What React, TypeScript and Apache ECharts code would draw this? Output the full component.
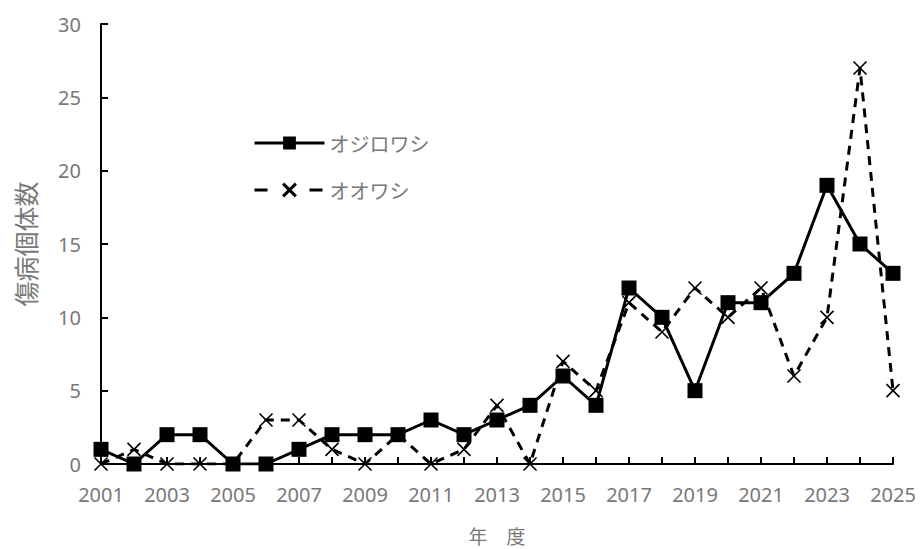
import React, { useEffect, useRef } from "react";
import * as echarts from "echarts";

// 年度ごとの傷病個体数
const years = [
  "2001", "2002", "2003", "2004", "2005", "2006", "2007", "2008", "2009", "2010",
  "2011", "2012", "2013", "2014", "2015", "2016", "2017", "2018", "2019", "2020",
  "2021", "2022", "2023", "2024", "2025",
];
const ojirowashi = [1, 0, 2, 2, 0, 0, 1, 2, 2, 2, 3, 2, 3, 4, 6, 4, 12, 10, 5, 11, 11, 13, 19, 15, 13];
const oowashi = [0, 1, 0, 0, 0, 3, 3, 1, 0, 2, 0, 1, 4, 0, 7, 5, 11, 9, 12, 10, 12, 6, 10, 27, 5];

const TEXT_GRAY = "#787878";
const CJK_FONT = "'Noto Sans CJK JP', sans-serif";
const NUM_FONT = "'Noto Sans', 'Open Sans', sans-serif";
const CROSS = "path://M0 0L10 10M10 0L0 10";

export default function App() {
  const ref = useRef<HTMLDivElement>(null);

  useEffect(() => {
    if (!ref.current) return;
    const chart = echarts.init(ref.current, undefined, { renderer: "svg" });
    chart.setOption({
      animation: false,
      backgroundColor: "#ffffff",
      textStyle: { fontFamily: CJK_FONT },
      grid: { left: 101, right: 27, top: 24, bottom: 85, containLabel: false, outerBoundsMode: "none" },
      legend: {
        orient: "vertical",
        left: 248,
        top: 128,
        itemWidth: 70,
        itemHeight: 16,
        itemGap: 27,
        textStyle: { color: TEXT_GRAY, fontSize: 20, fontFamily: CJK_FONT },
        data: [
          {
            name: "オジロワシ",
            lineStyle: { width: 3, color: "#000" },
          },
          {
            name: "オオワシ",
            lineStyle: { width: 3, color: "#000", type: [13, 42] },
            itemStyle: { color: "transparent", borderColor: "#000", borderWidth: 3 },
          },
        ],
      },
      xAxis: {
        type: "category",
        data: years,
        boundaryGap: false,
        name: "年　度",
        nameLocation: "middle",
        nameGap: 61,
        nameTextStyle: { color: TEXT_GRAY, fontSize: 19, lineHeight: 20, fontFamily: CJK_FONT },
        axisLine: { lineStyle: { color: "#000", width: 2 } },
        axisTick: { show: true, inside: true, length: 7, interval: 0, lineStyle: { color: "#000", width: 2 } },
        axisLabel: { interval: 1, color: TEXT_GRAY, fontSize: 20, margin: 20, fontFamily: NUM_FONT },
        splitLine: { show: false },
      },
      yAxis: {
        type: "value",
        min: 0,
        max: 30,
        interval: 5,
        name: "傷病個体数",
        nameLocation: "middle",
        nameRotate: 90,
        nameGap: 64,
        nameTextStyle: { color: TEXT_GRAY, fontSize: 25, fontFamily: CJK_FONT },
        axisLine: { show: true, lineStyle: { color: "#000", width: 2 } },
        axisTick: { show: true, inside: true, length: 7, lineStyle: { color: "#000", width: 2 } },
        axisLabel: { color: TEXT_GRAY, fontSize: 20, margin: 20, fontFamily: NUM_FONT },
        splitLine: { show: false },
      },
      series: [
        {
          name: "オオワシ",
          type: "line",
          data: oowashi,
          symbol: CROSS,
          symbolSize: 13,
          lineStyle: { color: "#000", width: 3, type: [9, 7] },
          itemStyle: { color: "transparent", borderColor: "#000", borderWidth: 1.6 },
          z: 2,
        },
        {
          name: "オジロワシ",
          type: "line",
          data: ojirowashi,
          symbol: "rect",
          symbolSize: 15,
          lineStyle: { color: "#000", width: 3 },
          itemStyle: { color: "#000" },
          z: 3,
        },
      ],
    });
    return () => chart.dispose();
  }, []);

  return <div ref={ref} style={{ width: 920, height: 549, position: "absolute", left: 0, top: 0 }} />;
}
